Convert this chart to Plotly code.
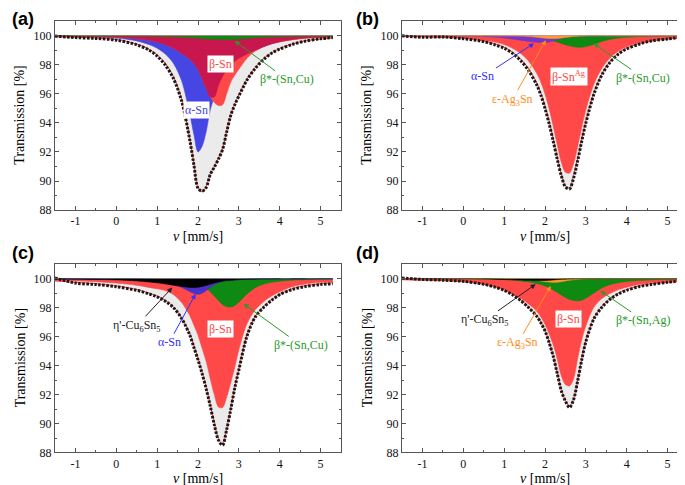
import numpy as np
import plotly.graph_objects as go

V = [-1.5, -1.0, -0.5, 0.0, 0.5, 0.8, 1.0, 1.2, 1.4, 1.6, 1.8, 1.9, 2.0, 2.1, 2.2, 2.3,
     2.4, 2.5, 2.6, 2.7, 2.8, 2.9, 3.0, 3.2, 3.4, 3.6, 3.8, 4.0, 4.3, 4.6, 5.0, 5.3]

# ---- panel (a) ----
A_DATA = [99.98, 99.88, 99.82, 99.7, 99.38, 99.02, 98.6, 97.98, 97.05, 95.5, 92.8, 91.1, 89.5, 89.3, 89.55, 90.45,
          90.95, 91.5, 92.15, 93.35, 94.5, 95.25, 95.85, 96.95, 97.75, 98.35, 98.8, 99.08, 99.4, 99.62, 99.8, 99.88]
A_FIT = [99.93, 99.90, 99.85, 99.74, 99.43, 99.07, 98.69, 98.10, 97.18, 95.61, 92.88, 91.16, 89.54, 89.27, 89.60, 90.48,
         90.97, 91.56, 92.20, 93.40, 94.55, 95.31, 95.93, 97.02, 97.81, 98.40, 98.82, 99.12, 99.43, 99.64, 99.78, 99.85]
A_ALPHA = [99.97, 99.95, 99.92, 99.85, 99.65, 99.4, 99.15, 98.75, 98.1, 96.9, 94.6, 93.2, 92.0, 92.4, 93.4, 94.9,
           95.8, 96.6, 97.2, 97.65, 98.0, 98.25, 98.45, 98.75, 99.0, 99.25, 99.45, 99.6, 99.75, 99.85, 99.92, 99.95]
A_BETA = [99.97, 99.96, 99.94, 99.9, 99.8, 99.7, 99.58, 99.4, 99.15, 98.8, 98.4, 98.1, 97.7, 97.05, 96.4, 95.8,
          95.4, 95.2, 95.25, 96.0, 96.8, 97.3, 97.7, 98.45, 98.95, 99.25, 99.45, 99.58, 99.72, 99.82, 99.88, 99.91]
A_BSTAR = [99.99, 99.99, 99.99, 99.99, 99.98, 99.97, 99.96, 99.95, 99.93, 99.91, 99.88, 99.86, 99.84, 99.82, 99.8, 99.78,
           99.77, 99.76, 99.75, 99.75, 99.75, 99.76, 99.78, 99.82, 99.86, 99.9, 99.92, 99.94, 99.96, 99.97, 99.98, 99.99]

# ---- panel (b) ----
B_DATA = [100.0, 99.9, 99.92, 99.8, 99.6, 99.35, 99.15, 98.8, 98.3, 97.6, 96.6, 95.9, 95.0, 93.95, 92.75, 91.5,
          90.35, 89.6, 89.45, 90.2, 91.4, 92.75, 94.0, 96.0, 97.35, 98.2, 98.75, 99.1, 99.42, 99.65, 99.78, 99.9]
B_FIT = [99.95, 99.93, 99.89, 99.83, 99.64, 99.42, 99.21, 98.88, 98.42, 97.73, 96.72, 96.04, 95.17, 94.12, 92.91, 91.63,
         90.45, 89.65, 89.5, 90.35, 91.55, 92.87, 94.13, 96.11, 97.41, 98.26, 98.8, 99.15, 99.46, 99.64, 99.78, 99.84]
B_BETA = [99.95, 99.93, 99.9, 99.85, 99.7, 99.55, 99.4, 99.15, 98.8, 98.25, 97.4, 96.8, 96.0, 95.0, 93.8, 92.5,
          91.3, 90.6, 90.55, 91.2, 92.4, 93.7, 94.9, 96.7, 97.8, 98.5, 98.95, 99.25, 99.52, 99.68, 99.8, 99.85]
B_ALPHA = [100, 100, 99.99, 99.98, 99.95, 99.9, 99.85, 99.78, 99.7, 99.62, 99.56, 99.55, 99.55, 99.58, 99.65, 99.74,
           99.82, 99.88, 99.92, 99.95, 99.96, 99.97, 99.98, 99.99, 99.99, 100, 100, 100, 100, 100, 100, 100]
B_EPS = [100, 100, 100, 100, 100, 99.99, 99.99, 99.99, 99.98, 99.95, 99.9, 99.87, 99.84, 99.82, 99.81, 99.82,
         99.85, 99.89, 99.92, 99.95, 99.97, 99.98, 99.99, 100, 100, 100, 100, 100, 100, 100, 100, 100]
B_BSTAR = [100, 100, 100, 100, 99.99, 99.98, 99.97, 99.96, 99.94, 99.91, 99.86, 99.82, 99.78, 99.72, 99.65, 99.57,
           99.48, 99.39, 99.31, 99.25, 99.22, 99.22, 99.26, 99.42, 99.62, 99.76, 99.85, 99.9, 99.94, 99.96, 99.98, 99.99]

# ---- panel (c) ----
C_DATA = [100.05, 99.7, 99.6, 99.45, 99.2, 98.95, 98.75, 98.45, 98.0, 97.25, 96.1, 95.25, 94.4, 93.45, 92.4, 91.2,
          89.9, 88.85, 88.5, 89.55, 90.95, 92.45, 93.7, 96.05, 97.35, 98.0, 98.5, 98.9, 99.25, 99.45, 99.6, 99.65]
C_FIT = [99.85, 99.75, 99.65, 99.5, 99.25, 99.0, 98.8, 98.5, 98.05, 97.3, 96.2, 95.35, 94.5, 93.55, 92.5, 91.3,
         90.0, 88.95, 88.55, 89.6, 91.0, 92.5, 93.75, 96.1, 97.4, 98.05, 98.55, 98.92, 99.3, 99.5, 99.65, 99.72]
C_BETA = [99.88, 99.85, 99.8, 99.7, 99.55, 99.4, 99.3, 99.18, 98.9, 98.35, 97.45, 96.8, 96.1, 95.2, 94.3, 93.1,
          92.0, 91.15, 91.1, 91.8, 92.8, 93.9, 95.1, 96.9, 97.85, 98.4, 98.8, 99.1, 99.45, 99.62, 99.75, 99.8]
C_BSTAR = [100, 100, 100, 99.99, 99.98, 99.96, 99.95, 99.93, 99.9, 99.85, 99.78, 99.72, 99.64, 99.52, 99.34, 99.1,
           98.8, 98.5, 98.22, 98.07, 98.05, 98.15, 98.38, 98.95, 99.38, 99.62, 99.75, 99.83, 99.9, 99.93, 99.96, 99.97]
C_ALPHA = [99.99, 99.98, 99.97, 99.95, 99.9, 99.85, 99.8, 99.72, 99.6, 99.4, 99.12, 98.98, 98.92, 99.0, 99.18, 99.4,
           99.58, 99.72, 99.8, 99.86, 99.9, 99.92, 99.94, 99.96, 99.97, 99.98, 99.98, 99.99, 99.99, 99.99, 100, 100]
C_ETA = [99.98, 99.97, 99.95, 99.92, 99.85, 99.78, 99.72, 99.64, 99.55, 99.47, 99.4, 99.4, 99.42, 99.47, 99.54, 99.62,
         99.7, 99.77, 99.83, 99.87, 99.9, 99.92, 99.94, 99.96, 99.97, 99.98, 99.98, 99.99, 99.99, 99.99, 100, 100]

# ---- panel (d) ----
D_DATA = [100.05, 99.95, 99.9, 99.82, 99.62, 99.4, 99.2, 98.9, 98.5, 98.0, 97.4, 96.95, 96.4, 95.6, 94.65, 93.45,
          92.25, 91.55, 91.1, 91.65, 92.95, 94.4, 95.65, 97.25, 98.05, 98.6, 98.95, 99.2, 99.45, 99.6, 99.75, 99.85]
D_FIT = [99.97, 99.92, 99.88, 99.8, 99.62, 99.42, 99.22, 98.95, 98.55, 98.05, 97.45, 97.0, 96.45, 95.65, 94.7, 93.5,
         92.3, 91.6, 91.2, 91.7, 93.0, 94.45, 95.7, 97.3, 98.1, 98.65, 99.0, 99.25, 99.5, 99.65, 99.75, 99.82]
D_BETA = [99.92, 99.9, 99.87, 99.8, 99.65, 99.45, 99.25, 99.0, 98.65, 98.25, 97.75, 97.35, 96.85, 96.2, 95.45, 94.45,
          93.3, 92.7, 92.6, 93.1, 94.5, 95.8, 96.75, 98.05, 98.65, 99.0, 99.25, 99.42, 99.6, 99.72, 99.8, 99.85]
D_BSTAR = [100, 100, 100, 99.99, 99.97, 99.95, 99.93, 99.9, 99.85, 99.78, 99.67, 99.6, 99.5, 99.38, 99.22, 99.05,
           98.87, 98.7, 98.57, 98.5, 98.48, 98.52, 98.65, 99.02, 99.38, 99.6, 99.73, 99.81, 99.88, 99.92, 99.95, 99.96]
D_EPS = [100, 100, 100, 100, 100, 100, 99.99, 99.98, 99.96, 99.93, 99.88, 99.84, 99.8, 99.77, 99.75, 99.76,
         99.8, 99.85, 99.9, 99.93, 99.96, 99.98, 99.99, 100, 100, 100, 100, 100, 100, 100, 100, 100]
D_ETA = [100, 100, 100, 100, 99.99, 99.97, 99.95, 99.93, 99.91, 99.89, 99.87, 99.87, 99.88, 99.9, 99.92, 99.94,
         99.96, 99.97, 99.98, 99.99, 100, 100, 100, 100, 100, 100, 100, 100, 100, 100, 100, 100]

X_TICKS = [-1, 0, 1, 2, 3, 4, 5]
X_TICKTEXT = ["-1", "0", "1", "2", "3", "4", "5"]
Y_TICKS = [88, 90, 92, 94, 96, 98, 100]

GRAY = "#EBEBEB"
RED = "#FF4848"
CRIMSON = "#C8164E"
BLUE = "#4646E4"
PURPLE = "#7436C8"
DBLUE = "#4A30C8"
GREEN = "#0E8A12"
ORANGE = "#FF9A30"
BLACK = "#000000"

fig = go.Figure()

W, H = 685, 485
panels = {
    1: dict(x=(47, 333), y=(13.5, 205)),
    2: dict(x=(394, 680), y=(13.5, 205)),
    3: dict(x=(47, 333), y=(260, 451)),
    4: dict(x=(394, 680), y=(260, 451)),
}


def ax_names(n):
    return ("x" if n == 1 else f"x{n}"), ("y" if n == 1 else f"y{n}")


def add_fill(n, yvals, color):
    xa, ya = ax_names(n)
    fig.add_trace(go.Scatter(x=V, y=[100] * len(V), mode="lines", line=dict(width=0),
                             xaxis=xa, yaxis=ya, showlegend=False, hoverinfo="skip"))
    fig.add_trace(go.Scatter(x=V, y=yvals, mode="lines", fill="tonexty", fillcolor=color,
                             line=dict(width=0.6, color=color, shape="spline", smoothing=0.9),
                             xaxis=xa, yaxis=ya, showlegend=False))


def add_data(n, fit, data):
    xa, ya = ax_names(n)
    fig.add_trace(go.Scatter(x=V, y=fit, mode="lines",
                             line=dict(width=1, color="#FF3030", shape="spline", smoothing=0.9),
                             xaxis=xa, yaxis=ya, showlegend=False))
    fig.add_trace(go.Scatter(x=V, y=data, mode="lines",
                             line=dict(width=3, color="#1a1a1a", dash="2.5px,1.5px", shape="spline", smoothing=0.9),
                             xaxis=xa, yaxis=ya, showlegend=False))


# (a)
add_fill(1, A_FIT, GRAY)
add_fill(1, A_ALPHA, BLUE)
add_fill(1, A_BETA, RED)
add_fill(1, list(np.maximum(A_ALPHA, A_BETA)), CRIMSON)
add_fill(1, A_BSTAR, GREEN)
add_data(1, A_FIT, A_DATA)
# (b)
add_fill(2, B_FIT, GRAY)
add_fill(2, B_BETA, RED)
add_fill(2, B_BSTAR, GREEN)
add_fill(2, B_ALPHA, PURPLE)
add_fill(2, B_EPS, ORANGE)
add_data(2, B_FIT, B_DATA)
# (c)
add_fill(3, C_FIT, GRAY)
add_fill(3, C_BETA, RED)
add_fill(3, C_BSTAR, GREEN)
add_fill(3, C_ALPHA, DBLUE)
add_fill(3, C_ETA, BLACK)
add_data(3, C_FIT, C_DATA)
# (d)
add_fill(4, D_FIT, GRAY)
add_fill(4, D_BETA, RED)
add_fill(4, D_BSTAR, GREEN)
add_fill(4, D_EPS, ORANGE)
add_fill(4, D_ETA, BLACK)
add_data(4, D_FIT, D_DATA)

SERIF = "Liberation Serif"
layout = dict(width=W, height=H, margin=dict(l=0, r=0, t=0, b=0),
              paper_bgcolor="white", plot_bgcolor="white", showlegend=False)

annotations = []
for n, p in panels.items():
    xa, ya = ax_names(n)
    xkey = "xaxis" if n == 1 else f"xaxis{n}"
    ykey = "yaxis" if n == 1 else f"yaxis{n}"
    xd = [p["x"][0] / W, p["x"][1] / W]
    yd = [1 - p["y"][1] / H, 1 - p["y"][0] / H]
    common = dict(showline=True, linecolor="#555555", linewidth=1, mirror="ticks",
                  ticks="inside", ticklen=4, tickcolor="#555555", showgrid=False, zeroline=False,
                  tickfont=dict(family=SERIF, size=12, color="#111111"), fixedrange=True)
    layout[xkey] = dict(domain=xd, range=[-1.5, 5.5], anchor=ya, tickvals=X_TICKS, ticktext=X_TICKTEXT,
                        minor=dict(dtick=0.5, tick0=0, ticks="inside", ticklen=2, tickcolor="#555555"),
                        **common)
    layout[ykey] = dict(domain=yd, range=[88, 101], anchor=xa, tickvals=Y_TICKS,
                        minor=dict(dtick=1, tick0=0, ticks="inside", ticklen=2, tickcolor="#555555"),
                        **common)
    # axis titles
    annotations.append(dict(xref="paper", yref="paper", x=(p["x"][0] - 35) / W,
                            y=1 - (p["y"][0] + p["y"][1]) / 2 / H, xanchor="center", yanchor="middle",
                            text="Transmission [%]", textangle=-90,
                            showarrow=False, font=dict(family=SERIF, size=14, color="black")))
    annotations.append(dict(xref="paper", yref="paper", x=(p["x"][0] + p["x"][1]) / 2 / W,
                            y=1 - (p["y"][1] + 26.5) / H, xanchor="center", yanchor="middle",
                            text="<i>v</i> [mm/s]",
                            showarrow=False, font=dict(family=SERIF, size=14, color="black")))

# panel letters
for lbl, px, py in [("(a)", 2, -1), ("(b)", 346, -1), ("(c)", 2, 236), ("(d)", 346, 236)]:
    annotations.append(dict(xref="paper", yref="paper", x=px / W, y=1 - py / H, xanchor="left", yanchor="top",
                            text=f"<b>{lbl}</b>", showarrow=False,
                            font=dict(family="Liberation Sans", size=18, color="black")))


def label(n, text, x, y, color, ax=None, ay=None, box=False):
    xa, ya = ax_names(n)
    d = dict(xref=xa, yref=ya, text=text, font=dict(family=SERIF, size=12, color=color))
    if box:
        d.update(x=x, y=y, showarrow=False, bgcolor="white", borderpad=1,
                 font=dict(family=SERIF, size=12, color=color))
    else:
        d.update(x=x, y=y, ax=ax, ay=ay, axref=xa, ayref=ya, showarrow=True, arrowhead=2,
                 arrowsize=1, arrowwidth=1, arrowcolor=color, standoff=0)
    annotations.append(d)


# (a)
label(1, "α-Sn", 1.97, 94.9, BLUE, box=True)
label(1, "β-Sn", 2.55, 98.05, RED, box=True)
label(1, "β*-(Sn,Cu)", 2.9, 99.64, "#2A9A2A", ax=4.17, ay=97.0)
# (b)
label(2, "α-Sn", 1.73, 99.48, "#3030FF", ax=0.48, ay=97.2)
label(2, "ε-Ag<sub>3</sub>Sn", 2.02, 99.7, "#FF8C20", ax=1.2, ay=95.6)
label(2, "β-Sn<sup>Ag</sup>", 2.58, 97.2, RED, box=True)
label(2, "β*-(Sn,Cu)", 3.19, 99.48, "#2A9A2A", ax=4.41, ay=97.1)
# (c)
label(3, "η'-Cu<sub>6</sub>Sn<sub>5</sub>", 1.37, 99.39, "#222222", ax=0.5, ay=96.75)
label(3, "α-Sn", 1.94, 98.94, "#3030FF", ax=1.3, ay=95.62)
label(3, "β-Sn", 2.55, 96.56, RED, box=True)
label(3, "β*-(Sn,Cu)", 3.12, 98.26, "#2A9A2A", ax=4.51, ay=95.43)
# (d)
label(4, "η'-Cu<sub>6</sub>Sn<sub>5</sub>", 1.77, 99.62, "#222222", ax=0.52, ay=97.12)
label(4, "ε-Ag<sub>3</sub>Sn", 2.14, 99.5, "#FF8C20", ax=1.33, ay=95.54)
label(4, "β-Sn", 2.58, 97.24, RED, box=True)
label(4, "β*-(Sn,Ag)", 3.36, 99.16, "#2A9A2A", ax=4.41, ay=97.12)

layout["annotations"] = annotations
fig.update_layout(**layout)
fig.write_html("out.html")
